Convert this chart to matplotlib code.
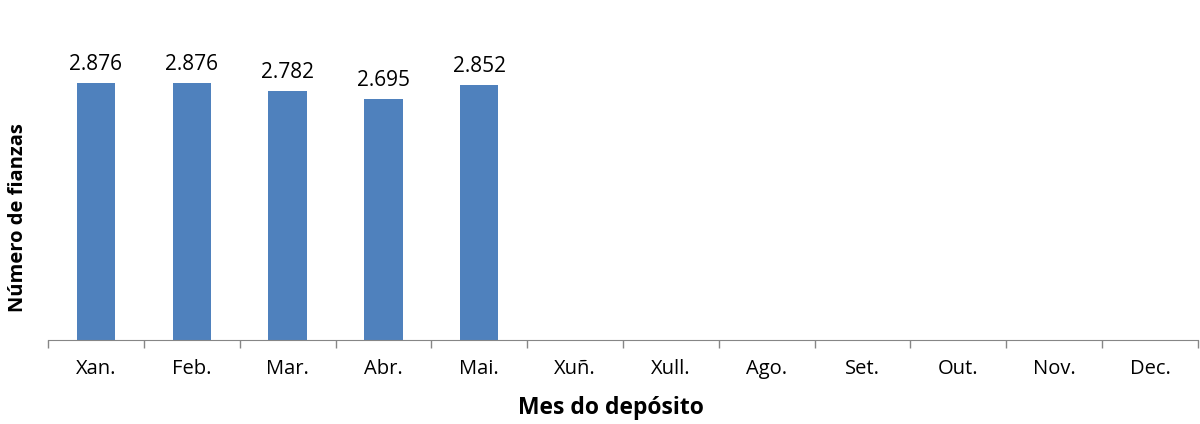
import matplotlib
matplotlib.use("Agg")
import matplotlib.pyplot as plt

months = ["Xan.", "Feb.", "Mar.", "Abr.", "Mai.", "Xuñ.", "Xull.", "Ago.", "Set.", "Out.", "Nov.", "Dec."]
values = [2876, 2876, 2782, 2695, 2852]
labels = ["2.876", "2.876", "2.782", "2.695", "2.852"]

plt.rcParams['font.family'] = ['Open Sans', 'DejaVu Sans']

W, H = 1200, 424
fig = plt.figure(figsize=(W/100, H/100), dpi=100)
ax = fig.add_axes([48/W, 1 - 340/H, (1198-48)/W, 330/H])

x = list(range(len(values)))
ax.bar(x, values, width=0.4, color="#4F81BD")
for xi, v, l in zip(x, values, labels):
    ax.annotate(l, (xi, v), xytext=(0, 6), textcoords="offset points",
                ha="center", va="bottom", fontsize=15, color="black")

ax.set_xlim(-0.5, len(months) - 0.5)
ax.set_ylim(0, 2876 * 330 / 257)
ax.set_xticks(range(len(months)))
ax.set_xticklabels(months, fontsize=14.5)
ax.set_xticks([i - 0.5 for i in range(len(months) + 1)], minor=True)
ax.tick_params(axis='x', which='major', length=0, pad=14)
ax.tick_params(axis='x', which='minor', length=6, color="#868686", width=1)
ax.set_yticks([])
for s in ["top", "right", "left"]:
    ax.spines[s].set_visible(False)
ax.spines["bottom"].set_color("#868686")

fig.text(18/W, 1 - 218/H, "Número de fianzas", rotation=90, ha="center", va="center",
         fontsize=14.5, fontweight="bold")
fig.text(611/W, 1 - 408/H, "Mes do depósito", ha="center", va="center",
         fontsize=16.5, fontweight="bold")

fig.savefig("out.png", dpi=100)
